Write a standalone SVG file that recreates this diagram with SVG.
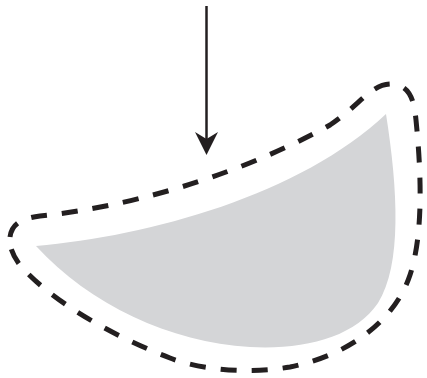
<svg xmlns="http://www.w3.org/2000/svg" width="427" height="378" viewBox="0 0 427 378">
<style>
.shape{fill:#d4d5d7;stroke:none}
.outline{fill:none;stroke:#231f20;stroke-width:5;stroke-dasharray:16 15}
.conn{stroke:#231f20;stroke-width:2.5;fill:none}
.head{fill:#231f20}
</style>
<g id="shape">
<path class="shape" d="M36,246 C150,236 300,195 386,114 C398,190 402,265 378,303 C355,337 305,350 250,347 C170,342 90,305 36,246 Z"/>
</g>
<g id="outline">
<path class="outline" d="M10,237 C12,222 25,218 40,216 C120,208 230,180 330,125 C360,105 370,85 390,84 C410,84 414,100 416,120 C420,160 425,230 410,275 C395,320 350,355 290,367 C250,374 200,370 170,358 C110,335 50,300 20,265 C12,255 9,245 10,237 Z"/>
</g>
<g id="connectors">
<line class="conn" x1="206.5" y1="6" x2="206.5" y2="140"/>
<path class="head" d="M206.5,155 L195,132 L206.5,139 L218,132 Z"/>
</g>
</svg>
